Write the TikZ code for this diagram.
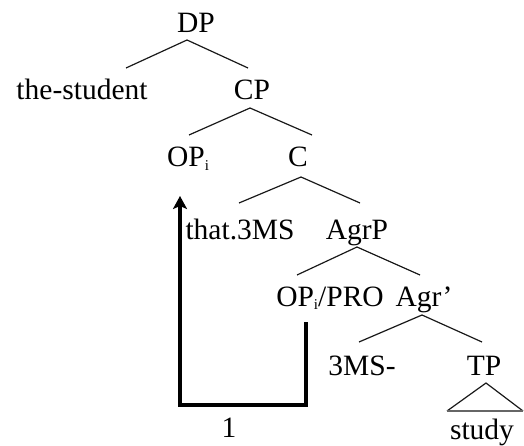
\documentclass[tikz,border=0pt]{standalone}
\usepackage{fontspec}
\setmainfont{Liberation Serif}
\usetikzlibrary{arrows.meta}
% small index subscript
\newcommand\idxsub[1]{\raisebox{-0.25ex}{\fontsize{15}{15}\selectfont #1}}
\begin{document}
\begin{tikzpicture}[x=1pt,y=-1pt,
  lbl/.style={anchor=base,inner sep=0pt,font=\fontsize{29.5}{32}\selectfont,text=black},
  branch/.style={line width=1.2pt,draw=black!90},
  movement/.style={line width=3.6pt,draw=black,line join=miter,
    -{Stealth[length=13pt,width=14pt,inset=3pt]}}]
  \useasboundingbox (0,0) rectangle (524,446);

  % labels (placed on their baselines)
  \node[lbl] (DP)   at (196,33)  {DP};
  \node[lbl] (stud) at (82,100)  {the-student};
  \node[lbl] (CP)   at (252,100) {CP};
  \node[lbl] (OPi)  at (188,167) {OP\idxsub{i}};
  \node[lbl] (C)    at (298,167) {C};
  \node[lbl] (that) at (240,240) {that.3MS};
  \node[lbl] (AgrP) at (357,240) {AgrP};
  \node[lbl] (OPP)  at (330,306) {OP\idxsub{i}/PRO};
  \node[lbl] (Agr)  at (424,306) {Agr’};
  \node[lbl] (tms)  at (362,375) {3MS-};
  \node[lbl] (TP)   at (484,375) {TP};
  \node[lbl] (stdy) at (482,439) {study};
  \node[lbl] (one)  at (229,437) {1};

  % branch points
  \coordinate (DPa) at (187,40);
  \coordinate (DPl) at (126,68);
  \coordinate (DPr) at (248,68);
  \coordinate (CPa) at (250,108);
  \coordinate (CPl) at (189,135);
  \coordinate (CPr) at (312,135);
  \coordinate (Ca)  at (301,177);
  \coordinate (Cl)  at (239,203);
  \coordinate (Cr)  at (360,203);
  \coordinate (Aa)  at (357,247);
  \coordinate (Al)  at (297,275);
  \coordinate (Ar)  at (420,275);
  \coordinate (Ga)  at (422,315);
  \coordinate (Gl)  at (359,342);
  \coordinate (Gr)  at (482,342);
  \coordinate (Ta)  at (486,383);
  \coordinate (Tl)  at (447,411);
  \coordinate (Tr)  at (523,411);

  % tree branches
  \draw[branch] (DPl) -- (DPa) -- (DPr);
  \draw[branch] (CPl) -- (CPa) -- (CPr);
  \draw[branch] (Cl) -- (Ca) -- (Cr);
  \draw[branch] (Al) -- (Aa) -- (Ar);
  \draw[branch] (Gl) -- (Ga) -- (Gr);
  \draw[branch] (Tl) -- (Ta) -- (Tr);
  \draw[branch,draw=black!60,line width=1.6pt] (Tl) -- (Tr);

  % movement arrow
  \coordinate (mvS) at (306,322);
  \coordinate (mvB) at (243,405);
  \coordinate (mvE) at (180,196);
  \draw[movement] (mvS) |- (mvB) -| (mvE);
\end{tikzpicture}
\end{document}
